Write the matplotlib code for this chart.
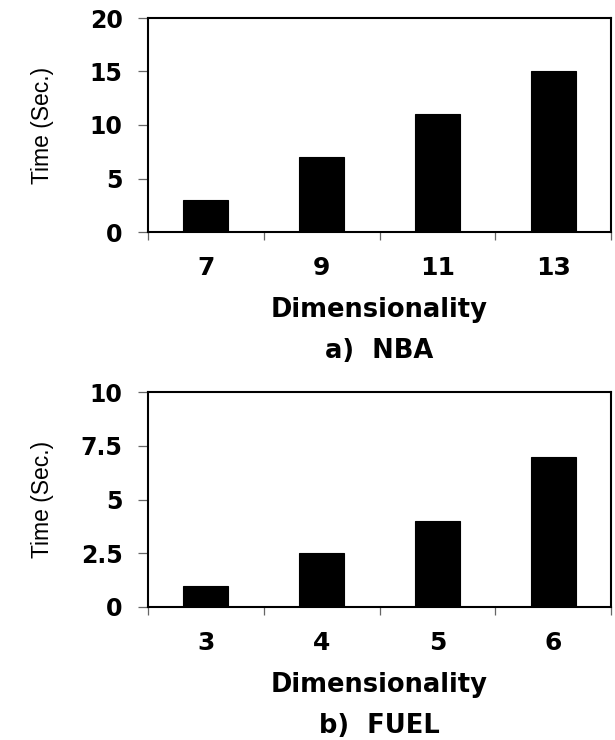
import matplotlib
matplotlib.use("Agg")
import matplotlib.pyplot as plt
from matplotlib.ticker import FixedLocator, NullFormatter, FixedFormatter

plt.rcParams['font.family'] = ['DejaVu Sans']

nba_dims = ["7", "9", "11", "13"]
nba_times = [3, 7, 11, 15]
nba_yticks = [0, 5, 10, 15, 20]
nba_yticklabels = ["0", "5", "10", "15", "20"]

fuel_dims = ["3", "4", "5", "6"]
fuel_times = [1, 2.5, 4, 7]
fuel_yticks = [0, 2.5, 5, 7.5, 10]
fuel_yticklabels = ["0", "2.5", "5", "7.5", "10"]

W, H = 615, 740
fig = plt.figure(figsize=(W / 100, H / 100), dpi=100)

def make_panel(top_px, bottom_px, dims, times, yticks, yticklabels, caption):
    left, right = 148, 611
    ax = fig.add_axes([left / W, (H - bottom_px) / H, (right - left) / W, (bottom_px - top_px) / H])
    n = len(dims)
    pos = list(range(n))
    ax.bar(pos, times, width=0.39, color="black", edgecolor="black", linewidth=0.8)
    ax.set_xlim(-0.5, n - 0.5)
    ax.set_ylim(yticks[0], yticks[-1])
    ax.xaxis.set_major_locator(FixedLocator([p - 0.5 for p in range(n + 1)]))
    ax.xaxis.set_major_formatter(NullFormatter())
    ax.xaxis.set_minor_locator(FixedLocator(pos))
    ax.xaxis.set_minor_formatter(FixedFormatter(dims))
    ax.tick_params(axis="x", which="major", direction="out", length=5.5, width=0.9, color="#666666")
    ax.tick_params(axis="x", which="minor", length=0, pad=17, labelsize=18)
    ax.set_yticks(yticks)
    ax.set_yticklabels(yticklabels)
    ax.tick_params(axis="y", direction="out", length=7.2, width=0.9, color="#666666", pad=11, labelsize=17)
    for lab in ax.get_xticklabels(minor=True) + ax.get_yticklabels():
        lab.set_fontweight("bold")
    for s in ax.spines.values():
        s.set_linewidth(1.5)
    ax.set_ylabel("Time (Sec.)", fontsize=16.5,
                  family=['Liberation Sans', 'DejaVu Sans'])
    ax.yaxis.set_label_coords((43 - left) / (right - left), 0.5)
    ax.yaxis.label.set_va("center")
    cx = (left + right) / 2 / W
    fig.text(cx, 1 - (bottom_px + 78) / H, "Dimensionality", ha="center", va="center",
             fontsize=18.5, fontweight="bold")
    fig.text(cx, 1 - (bottom_px + 119) / H, caption, ha="center", va="center",
             fontsize=18.5, fontweight="bold")
    return ax

make_panel(18, 232, nba_dims, nba_times, nba_yticks, nba_yticklabels, "a)  NBA")
make_panel(392, 607, fuel_dims, fuel_times, fuel_yticks, fuel_yticklabels, "b)  FUEL")

fig.savefig("out.png", dpi=100)
